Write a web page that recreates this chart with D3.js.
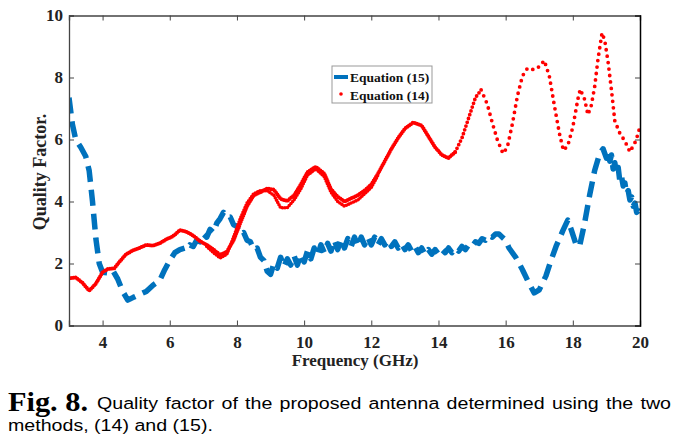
<!DOCTYPE html>
<html><head><meta charset="utf-8">
<script src="https://cdn.jsdelivr.net/npm/d3@7"></script>
<style>body{margin:0;background:#fff}</style>
</head><body><svg id="c" width="689" height="439"></svg>
<script>
// ---- data ----
const xTicks = [4, 6, 8, 10, 12, 14, 16, 18, 20];
const yTicks = [0, 2, 4, 6, 8, 10];
const seriesNames = ["Equation (15)", "Equation (14)"];

const eq15Freq = [3.0,3.1,3.2,3.35,3.5,3.6,3.7,3.8,3.9,4.0,4.15,4.3,4.45,4.6,4.75,4.9,5.1,5.3,5.5,5.7,5.85,6.0,6.15,6.3,6.45,
 6.5,6.6,6.7,6.8,6.9,7.0,7.1,7.2,7.3,7.4,7.5,7.6,7.7,7.8,7.9,8.0,8.1,8.2,8.3,8.4,8.5,8.6,8.7,8.8,8.9,9.0,9.1,9.2,9.3,9.4,9.5,9.6,9.7,9.8,9.9,
 10.0,10.1,10.2,10.3,10.4,10.5,10.6,10.7,10.8,10.9,11.0,11.1,11.2,11.3,11.4,11.5,11.6,11.7,11.8,11.9,12.0,12.1,12.2,12.3,12.4,12.5,12.6,12.7,12.8,12.9,
 13.0,13.1,13.2,13.3,13.4,13.5,13.6,13.7,13.8,13.9,14.0,14.1,14.2,14.3,14.4,14.5,14.6,14.7,14.8,14.9,15.0,15.1,15.2,15.3,15.4,15.5,15.6,15.7,15.8,15.9,16.0,16.1,
 16.3,16.5,16.7,16.85,17.0,17.2,17.35,17.5,17.7,17.85,17.95,18.1,18.2,18.35,18.5,18.65,18.8,18.9,
 19.0,19.05,19.1,19.15,19.2,19.25,19.3,19.35,19.4,19.45,19.5,19.55,19.6,19.65,19.7,19.75,19.8,19.85,19.9,19.95,20.0];
const eq15Q = [7.35,6.5,6.0,5.75,5.45,5.0,4.0,2.8,2.0,1.72,1.7,1.78,1.5,1.1,0.82,0.9,1.0,1.1,1.3,1.45,1.8,2.1,2.35,2.45,2.5,
 2.45,2.6,2.55,2.75,2.7,2.95,2.85,3.1,3.0,3.3,3.45,3.65,3.5,3.5,3.25,3.2,2.95,3.0,2.75,2.7,2.45,2.5,2.2,2.1,1.75,1.65,2.0,1.85,2.2,1.9,2.15,1.95,2.25,1.95,2.3,
 2.05,2.4,2.15,2.5,2.25,2.6,2.35,2.65,2.4,2.75,2.45,2.8,2.5,2.8,2.55,2.85,2.55,2.85,2.6,2.85,2.6,2.85,2.6,2.8,2.6,2.75,2.55,2.7,2.5,2.65,
 2.45,2.6,2.4,2.55,2.35,2.5,2.3,2.45,2.3,2.45,2.3,2.45,2.35,2.5,2.35,2.5,2.4,2.55,2.45,2.6,2.55,2.7,2.65,2.8,2.75,2.9,2.85,2.95,2.95,2.85,2.75,2.5,
 2.2,1.8,1.35,1.05,1.15,1.6,2.1,2.55,3.05,3.4,3.1,2.6,2.55,3.3,4.2,5.0,5.55,5.7,
 5.4,5.65,5.3,5.5,5.05,5.25,4.9,5.1,4.65,4.8,4.5,4.6,4.25,4.35,4.05,4.15,3.85,3.95,3.65,3.7,3.45];

const eq14Freq = [3.0,3.2,3.4,3.6,3.8,4.0,4.15,4.35,4.5,4.7,4.9,5.1,5.3,5.5,5.7,5.9,6.1,6.3,6.5,6.7,6.9,7.1,7.3,7.5,7.7,7.9,8.1,8.3,8.5,8.7,8.9,9.1,9.3,9.5,9.7,9.9,
 10.1,10.35,10.6,10.8,11.0,11.2,11.4,11.6,11.8,12.0,12.2,12.4,12.6,12.8,13.0,13.25,13.5,13.7,13.9,14.1,14.3,14.5,14.7,14.9,15.1,15.27,15.45,15.6,15.75,15.92,
 16.05,16.2,16.35,16.5,16.65,16.85,17.0,17.15,17.3,17.45,17.6,17.72,17.85,18.0,18.15,18.22,18.35,18.45,18.55,18.65,18.75,18.87,18.95,19.05,19.15,19.25,19.4,19.55,19.7,19.85,19.95,20.0];
const eq14Q = [1.52,1.55,1.38,1.12,1.35,1.72,1.82,1.85,2.05,2.3,2.42,2.5,2.6,2.58,2.65,2.78,2.88,3.08,3.02,2.9,2.72,2.6,2.45,2.28,2.38,2.75,3.3,3.85,4.2,4.3,4.42,4.38,4.08,4.02,4.2,4.55,
 4.95,5.12,4.9,4.4,4.15,4.0,4.1,4.2,4.35,4.55,4.9,5.3,5.7,6.05,6.35,6.55,6.45,6.1,5.75,5.5,5.4,5.6,6.05,6.7,7.35,7.6,7.15,6.55,6.0,5.55,
 5.75,6.5,7.4,8.05,8.3,8.25,8.35,8.55,8.05,7.1,6.2,5.65,5.8,6.4,7.3,7.62,7.3,6.8,7.1,7.7,8.6,9.44,9.2,8.5,7.6,6.6,6.2,5.95,5.6,5.9,6.2,6.45];
// second (overlapping) trace of Equation (14) between 7 and 12 GHz
const eq14bFreq = [7.1,7.3,7.5,7.7,7.9,8.1,8.3,8.5,8.7,8.9,9.1,9.3,9.5,9.7,9.9,10.1,10.35,10.6,10.8,11.0,11.2,11.4,11.6,11.8,12.0,12.2];
const eq14bQ = [2.55,2.35,2.18,2.3,2.85,3.45,3.95,4.25,4.35,4.35,4.2,3.8,3.8,4.05,4.4,4.85,5.05,4.8,4.3,4.0,3.85,3.95,4.05,4.25,4.45,4.85];

// ---- layout ----
const svg = d3.select("#c");
const L = 69, R = 640, T = 15.5, B = 325.5;
const x = d3.scaleLinear().domain([3, 20]).range([L, R]);
const y = d3.scaleLinear().domain([0, 10]).range([B, T]);
const serif = "'Liberation Serif','Times New Roman',serif";
const sans = "'Liberation Sans',Arial,sans-serif";

svg.append("clipPath").attr("id","pc").append("rect")
  .attr("x", L).attr("y", T).attr("width", R-L).attr("height", B-T);

const toPts = (fs, qs) => fs.map((f,i)=>[f, qs[i]]);
const line = d3.line().x(d=>x(d[0])).y(d=>y(d[1]));
const g = svg.append("g").attr("clip-path","url(#pc)");

// Equation (15): thick dashed blue
g.append("path").datum(toPts(eq15Freq, eq15Q))
  .attr("d", line).attr("fill","none").attr("stroke","#0072BD")
  .attr("stroke-width",5.5).attr("stroke-dasharray","16,8").attr("stroke-linejoin","round");

// Equation (14): red dots
const p14 = toPts(eq14Freq, eq14Q);
const dense = p14.filter(d=>d[0] <= 14.5);
const mid = p14.filter(d=>d[0] >= 14.5 && d[0] <= 15.27);
const sparse = p14.filter(d=>d[0] >= 15.27);
const dotStyle = (sel, w, gap) => sel.attr("fill","none").attr("stroke","#ff0000")
  .attr("stroke-width", w).attr("stroke-linecap","round").attr("stroke-dasharray","0,"+gap);
dotStyle(g.append("path").datum(toPts(eq14bFreq, eq14bQ)).attr("d", line), 3.6, 2.6);
dotStyle(g.append("path").datum(dense).attr("d", line), 4, 2.2);
dotStyle(g.append("path").datum(mid).attr("d", line), 3.8, 4);
dotStyle(g.append("path").datum(sparse).attr("d", line), 3.8, 6.5);

// ---- axes ----
const axCol = "#444";
const xb = svg.append("g").attr("transform",`translate(0,${B})`)
  .call(d3.axisBottom(x).tickValues(xTicks).tickSize(-5).tickPadding(10).tickFormat(d3.format("d")));
const xt = svg.append("g").attr("transform",`translate(0,${T})`)
  .call(d3.axisTop(x).tickValues(xTicks).tickSize(-5).tickFormat(""));
const yl = svg.append("g").attr("transform",`translate(${L},0)`)
  .call(d3.axisLeft(y).tickValues(yTicks).tickSize(-5).tickPadding(6).tickFormat(d3.format("d")));
const yr = svg.append("g").attr("transform",`translate(${R},0)`)
  .call(d3.axisRight(y).tickValues(yTicks).tickSize(-5).tickFormat(""));
[xb,xt,yl,yr].forEach(a=>{
  a.select(".domain").attr("stroke",axCol).attr("stroke-width",1.3);
  a.selectAll(".tick line").attr("stroke",axCol).attr("stroke-width",1);
  a.selectAll("text").attr("font-family",serif).attr("font-weight","bold").attr("font-size",17).attr("fill","#222");
});
yr.select(".domain").attr("stroke","#000").attr("stroke-width",1.5);
xb.selectAll(".tick").filter(d=>d===20).select("line").remove();

// axis labels
svg.append("text").attr("x", 355).attr("y", 366).attr("text-anchor","middle")
  .attr("font-family",serif).attr("font-weight","bold").attr("font-size",17).attr("fill","#222")
  .text("Frequency (GHz)");
svg.append("text").attr("transform","translate(46,172) rotate(-90)").attr("text-anchor","middle")
  .attr("font-family",serif).attr("font-weight","bold").attr("font-size",18).attr("fill","#222")
  .text("Quality Factor.");

// ---- legend ----
const lg = svg.append("g");
lg.append("rect").attr("x",332).attr("y",66).attr("width",100).attr("height",37)
  .attr("fill","#fff").attr("stroke","#999").attr("stroke-width",1);
lg.append("line").attr("x1",334).attr("x2",348).attr("y1",77).attr("y2",77)
  .attr("stroke","#0072BD").attr("stroke-width",4);
lg.append("circle").attr("cx",341).attr("cy",94).attr("r",1.8).attr("fill","#ff0000");
seriesNames.forEach((n,i)=>{
  lg.append("text").attr("x",350).attr("y",82 + i*17.5)
    .attr("font-family",serif).attr("font-weight","bold").attr("font-size",13.5).attr("fill","#111").text(n);
});

// ---- caption ----
svg.append("text").attr("x",8).attr("y",411).attr("font-family",serif).attr("font-weight","bold")
  .attr("font-size",28).attr("fill","#000").attr("textLength",80).attr("lengthAdjust","spacingAndGlyphs")
  .text("Fig. 8.");
const capFont = 17;
const cap2 = svg.append("text").attr("x",8).attr("y",431).attr("font-family",sans)
  .attr("font-size",capFont).attr("fill","#000").text("methods, (14) and (15).");
const s = 205 / cap2.node().getComputedTextLength();
cap2.attr("x", 8/s).attr("transform",`scale(${s},1)`);
const cap1 = svg.append("text").attr("x",97/s).attr("y",409).attr("font-family",sans)
  .attr("font-size",capFont).attr("fill","#000").attr("transform",`scale(${s},1)`)
  .text("Quality factor of the proposed antenna determined using the two");
const w = cap1.node().getComputedTextLength();
const target = (671 - 97)/s;
cap1.attr("word-spacing", Math.max(0,(target - w)/9).toFixed(2));
</script>
</body></html>
